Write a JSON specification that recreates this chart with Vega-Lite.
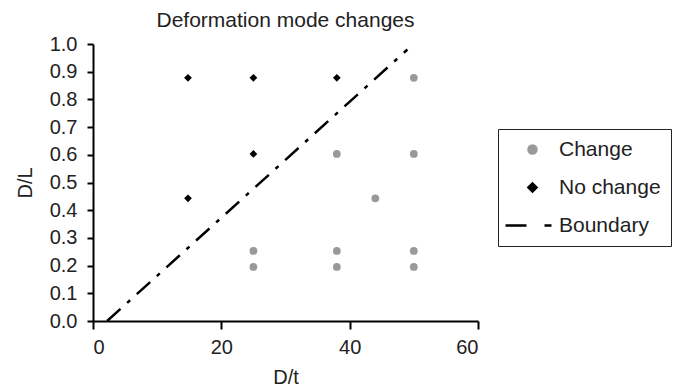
{
  "$schema": "https://vega.github.io/schema/vega-lite/v6.json",
  "width": 385,
  "height": 277,
  "autosize": "none",
  "padding": {"left": 93, "top": 44, "right": 199, "bottom": 69},
  "background": "white",
  "config": {
    "font": "Liberation Sans",
    "view": {"stroke": null},
    "title": {"fontSize": 21, "fontWeight": "normal", "color": "#222"}
  },
  "title": {"text": "Deformation mode changes", "anchor": "middle", "offset": 3},
  "data": {"values": [
    {"x": 25, "y": 0.195, "s": "Change"},
    {"x": 25, "y": 0.253, "s": "Change"},
    {"x": 38, "y": 0.195, "s": "Change"},
    {"x": 38, "y": 0.253, "s": "Change"},
    {"x": 38, "y": 0.603, "s": "Change"},
    {"x": 44, "y": 0.443, "s": "Change"},
    {"x": 50, "y": 0.195, "s": "Change"},
    {"x": 50, "y": 0.253, "s": "Change"},
    {"x": 50, "y": 0.603, "s": "Change"},
    {"x": 50, "y": 0.878, "s": "Change"},
    {"x": 14.8, "y": 0.878, "s": "No change"},
    {"x": 25, "y": 0.878, "s": "No change"},
    {"x": 38, "y": 0.878, "s": "No change"},
    {"x": 14.8, "y": 0.443, "s": "No change"},
    {"x": 25, "y": 0.603, "s": "No change"},
    {"x": 2.2, "y": 0.0, "s": "Boundary"},
    {"x": 49, "y": 0.98, "s": "Boundary"}
  ]},
  "encoding": {
    "x": {"field": "x", "type": "quantitative", "title": "D/t", "scale": {"domain": [0, 60]},
      "axis": {"values": [0, 20, 40, 60], "grid": false, "domainColor": "black", "tickColor": "black", "labelColor": "#222", "titleColor": "#222", "labelFontSize": 20, "titleFontSize": 20, "titleFontWeight": "normal", "domainWidth": 2, "tickWidth": 2, "tickSize": 8, "titlePadding": 10, "labelPadding": 8}},
    "y": {"field": "y", "type": "quantitative", "title": "D/L", "scale": {"domain": [0, 1]},
      "axis": {"values": [0, 0.1, 0.2, 0.3, 0.4, 0.5, 0.6, 0.7, 0.8, 0.9, 1.0], "format": ".1f", "grid": false, "domainColor": "black", "tickColor": "black", "labelColor": "#222", "titleColor": "#222", "labelFontSize": 20, "titleFontSize": 20, "titleFontWeight": "normal", "domainWidth": 2, "tickWidth": 2, "tickSize": 6, "titlePadding": 14, "labelPadding": 10}},
    "color": {"field": "s", "type": "nominal", "title": null, "scale": {"domain": ["Change", "No change", "Boundary"], "range": ["#999999", "#000000", "#000000"]},
      "legend": {"orient": "none", "legendX": 405, "legendY": 85, "strokeColor": "#222", "fillColor": "white", "padding": 10, "labelFontSize": 21, "labelColor": "#222", "symbolSize": 64, "rowPadding": 16, "symbolOffset": 14, "labelOffset": 16, "symbolStrokeWidth": 2.5}},
    "shape": {"field": "s", "type": "nominal", "title": null, "scale": {"domain": ["Change", "No change", "Boundary"], "range": ["circle", "diamond", "M-6.75,0H-1.5M3,0H4.75"]}}
  },
  "layer": [
    {"transform": [{"filter": "datum.s === 'Boundary'"}], "mark": {"type": "line", "strokeWidth": 2.5, "strokeDash": [18, 9, 4, 9]}},
    {"transform": [{"filter": "datum.s !== 'Boundary'"}], "mark": {"type": "point", "filled": true, "size": 60, "opacity": 1}}
  ]
}
